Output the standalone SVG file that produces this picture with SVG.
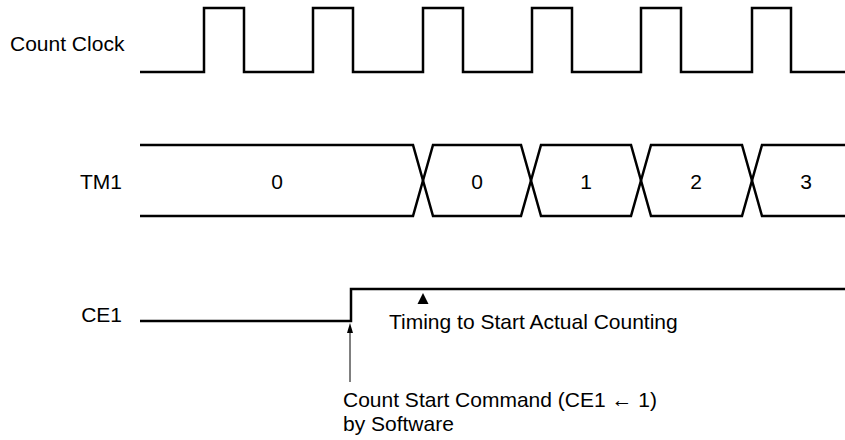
<svg xmlns="http://www.w3.org/2000/svg" width="845" height="440" viewBox="0 0 845 440">
<style>
.sig{fill:none;stroke:#000;stroke-width:2.5;stroke-linejoin:miter}
.lbl{font-family:"Liberation Sans",Arial,sans-serif;font-size:21px;fill:#000}
.mid{text-anchor:middle}
.end{text-anchor:end}
.ptr{stroke:#000;stroke-width:1}
</style>
<rect width="845" height="440" fill="#fff"/>
<g id="count-clock">
<text class="lbl" x="10" y="51">Count Clock</text>
<path class="sig" d="M140,72 H204 V8 H244 V72 H313 V8 H353 V72 H423 V8 H463 V72 H532 V8 H572 V72 H641 V8 H681 V72 H752 V8 H791 V72 H845"/>
</g>
<g id="tm1">
<text class="lbl end" x="122" y="189">TM1</text>
<path class="sig" d="M140,145 H413 L433,216 H521 L541,145 H631 L651,216 H742 L762,145 H845"/>
<path class="sig" d="M140,216 H413 L433,145 H521 L541,216 H631 L651,145 H742 L762,216 H845"/>
<text class="lbl mid" x="277" y="189">0</text>
<text class="lbl mid" x="477" y="189">0</text>
<text class="lbl mid" x="586" y="189">1</text>
<text class="lbl mid" x="696" y="189">2</text>
<text class="lbl mid" x="806" y="189">3</text>
</g>
<g id="ce1">
<text class="lbl end" x="122" y="322">CE1</text>
<path class="sig" d="M140,321 H351 V289 H845"/>
</g>
<g id="timing">
<path d="M417.5,304 L423,293 L428.5,304 Z" fill="#000"/>
<text class="lbl" x="389" y="329">Timing to Start Actual Counting</text>
</g>
<g id="connectors">
<line class="ptr" x1="350" y1="382" x2="350" y2="332"/>
<path d="M347,333 L350,323 L353,333 Z" fill="#000"/>
</g>
<g id="command">
<text class="lbl" x="343" y="407">Count Start Command (CE1 ← 1)</text>
<text class="lbl" x="343" y="431">by Software</text>
</g>
</svg>
